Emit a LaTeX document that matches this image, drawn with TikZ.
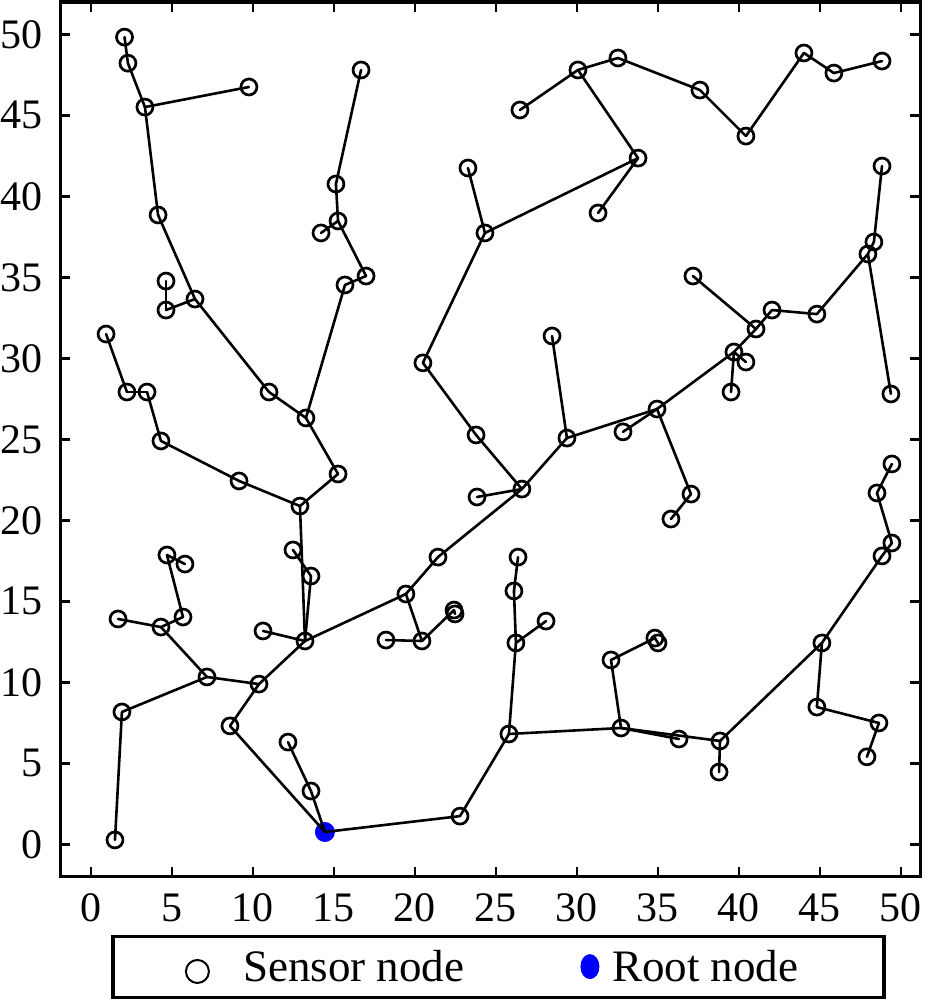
\documentclass[tikz,border=0pt]{standalone}
\usepackage{fontspec}
\setmainfont{Liberation Serif}
\usetikzlibrary{shapes.geometric}
\begin{document}
\begin{tikzpicture}[x=16.2pt,y=16.2pt,
  sensor/.style={circle,draw=black,line width=2.7pt,minimum size=16pt,inner sep=0pt},
  rootnode/.style={circle,fill=blue,minimum size=20pt,inner sep=0pt},
  link/.style={line width=2.6pt,line cap=round},
  frame/.style={line width=3.4pt},
  tickmark/.style={line width=2.4pt},
  ticklabel/.style={inner sep=0pt,font=\fontsize{42}{42}\selectfont},
  legendtext/.style={inner sep=0pt,anchor=base west,font=\fontsize{45}{45}\selectfont}]
\useasboundingbox (-5.617,-9.611) rectangle (52.16,52.12);
% frame and ticks
\draw[frame] (-1.9,-2) rectangle (51.2,52);
\foreach \t in {0,5,...,50}{
  \draw[tickmark] (\t,-2) -- ++(0,0.62);
  \draw[tickmark] (\t,52) -- ++(0,-0.62);
  \draw[tickmark] (-1.9,\t) -- ++(0.62,0);
  \draw[tickmark] (51.2,\t) -- ++(-0.62,0);
  \node[ticklabel] (xl\t) at (\t,-3.9) {\t};
  \node[ticklabel,anchor=east] (yl\t) at (-2.96,\t) {\t};
}
% sensor nodes
\foreach \n/\x/\y in {
 n1/2.07/49.83, n2/2.28/48.22, n3/3.33/45.51, n4/9.75/46.75, n5/4.14/38.85,
 n6/4.63/34.77, n7/4.63/32.98, n8/6.42/33.66, n9/0.93/31.50, n10/2.22/27.92,
 n11/3.46/27.92, n12/4.32/24.90, n13/9.14/22.43, n14/10.99/27.92, n15/13.27/26.32,
 n16/15.25/22.86, n17/12.90/20.88, n18/16.67/47.80, n19/15.12/40.76, n20/15.25/38.48,
 n21/14.20/37.74, n22/16.98/35.08, n23/15.68/34.53, n24/12.47/18.17, n25/13.58/16.56,
 n26/13.21/12.55, n27/10.62/13.17, n28/4.69/17.86, n29/5.80/17.30, n30/1.67/13.91,
 n31/4.32/13.41, n32/5.68/14.03, n33/7.16/10.33, n34/10.37/9.89, n35/1.91/8.17,
 n36/1.48/0.27, n37/8.58/7.31, n38/12.16/6.31, n39/13.58/3.29,
 n40/19.44/15.45, n41/21.42/17.73, n42/20.43/12.55, n43/18.21/12.61,
 n44a/22.41/14.46, n44b/22.47/14.22, n45/23.83/21.44, n46/26.60/21.93,
 n47/23.77/25.27, n48/20.49/29.72, n49/24.32/37.74, n50/23.27/41.75,
 n51/33.77/42.36, n52/31.30/38.97, n53/30.06/47.80, n54/26.48/45.33,
 n55/32.53/48.54, n56/37.59/46.56, n57/40.43/43.72, n58/44.01/48.85,
 n59/45.86/47.61, n60/48.83/48.35, n61/28.46/31.38, n62/29.38/25.08,
 n63/32.84/25.46, n64/34.94/26.87, n65/37.04/21.62, n66/35.80/20.08,
 n67/39.69/30.39, n68/40.43/29.77, n69/39.51/27.92, n70/41.05/31.81,
 n71/42.04/32.98, n72/44.81/32.73, n73/37.16/35.08, n74/47.96/36.44,
 n75/48.33/37.18, n76/48.83/41.87, n77/49.38/27.80, n78/26.36/17.73,
 n79/26.11/15.64, n80/26.23/12.43, n81/28.09/13.78, n82/25.80/6.81,
 n83/22.78/1.74, n84/32.72/7.18, n85/32.10/11.38, n86a/34.81/12.73,
 n86b/35.00/12.43, n87/36.30/6.50, n88/38.83/6.38, n89/38.77/4.46,
 n90/45.12/12.43, n91/44.81/8.47, n92/48.64/7.49, n93/47.90/5.40,
 n94/48.83/17.80, n95/49.44/18.60, n96/48.52/21.69, n97/49.44/23.48}
 {\node[sensor] (\n) at (\x,\y) {};}
\node[rootnode] (root) at (14.44,0.76) {};
% tree links
\foreach \a/\b in {
 n1/n2, n2/n3, n3/n4, n3/n5, n5/n8, n8/n7, n7/n6, n8/n14, n14/n15, n15/n23,
 n15/n16, n16/n17, n17/n13, n13/n12, n12/n11, n11/n10, n10/n9,
 n23/n22, n22/n20, n20/n19, n19/n18, n20/n21,
 n17/n26, n26/n25, n25/n24, n26/n27, n26/n34, n34/n33, n33/n31, n31/n30,
 n31/n32, n32/n28, n28/n29, n33/n35, n35/n36, n34/n37, n37/root, n38/n39, n39/root,
 n26/n40, n40/n42, n42/n43, n42/n44a, n44a/n44b, n40/n41, n41/n46, n46/n45,
 n46/n47, n47/n48, n48/n49, n49/n50, n49/n51, n51/n52, n51/n53, n53/n54,
 n53/n55, n55/n56, n56/n57, n57/n58, n58/n59, n59/n60,
 n46/n62, n62/n61, n62/n64, n64/n63, n64/n65, n65/n66, n64/n67, n67/n68,
 n67/n69, n67/n70, n70/n73, n70/n71, n71/n72, n72/n74, n74/n75, n75/n76, n74/n77,
 root/n83, n83/n82, n82/n80, n80/n79, n79/n78, n80/n81, n82/n84, n84/n85,
 n85/n86a, n86a/n86b, n84/n87, n84/n88, n88/n89, n88/n90, n90/n91, n91/n92,
 n92/n93, n90/n94, n94/n95, n95/n96, n96/n97}
 {\draw[link] (\a.center) -- (\b.center);}
% legend
\draw[frame] (1.37,-5.70) rectangle (48.95,-9.44);
\node[circle,draw=black,line width=2pt,minimum size=23pt,inner sep=0pt] (lgs) at (6.57,-7.85) {};
\node[legendtext] (lgst) at (9.38,-8.48) {Sensor node};
\node[ellipse,fill=blue,minimum width=19pt,minimum height=25pt,inner sep=0pt] (lgr) at (30.8,-7.55) {};
\node[legendtext] (lgrt) at (32.16,-8.48) {Root node};
\end{tikzpicture}
\end{document}
